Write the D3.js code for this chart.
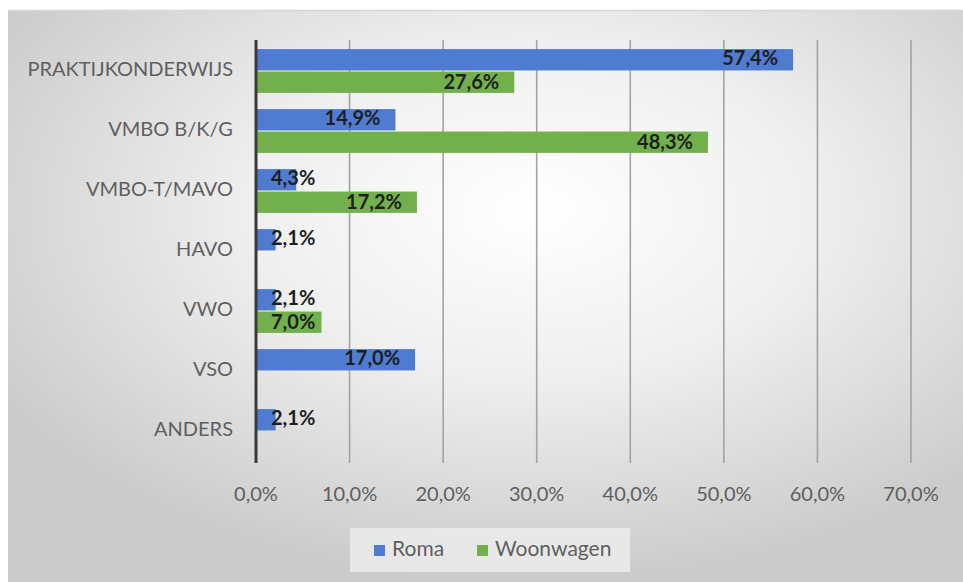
<!DOCTYPE html>
<html>
<head>
<meta charset="utf-8">
<script src="https://cdn.jsdelivr.net/npm/d3@7"></script>
<style>
  body { margin: 0; background: #ffffff; }
  svg { display: block; font-family: Lato, "Open Sans", sans-serif; }
</style>
</head>
<body>
<div id="chart"></div>
<script>
// data
var categories = ['PRAKTIJKONDERWIJS', 'VMBO B/K/G', 'VMBO-T/MAVO', 'HAVO', 'VWO', 'VSO', 'ANDERS'];
var seriesNames = ['Roma', 'Woonwagen'];
var romaValues = [57.4, 14.9, 4.3, 2.1, 2.1, 17.0, 2.1];
var woonwagenValues = [27.6, 48.3, 17.2, null, 7.0, null, null];
var tickValues = [0, 10, 20, 30, 40, 50, 60, 70];
var colors = ['#4f7bd0', '#72b04c'];

var width = 963, height = 582;

var svg = d3.select('#chart').append('svg')
  .attr('width', width)
  .attr('height', height);

var defs = svg.append('defs');
var grad = defs.append('radialGradient')
  .attr('id', 'bg')
  .attr('cx', '55%').attr('cy', '35%').attr('r', '65%');
grad.append('stop').attr('offset', '0%').attr('stop-color', '#ffffff');
grad.append('stop').attr('offset', '45%').attr('stop-color', '#efefef');
grad.append('stop').attr('offset', '100%').attr('stop-color', '#cbcbcb');

// panel
svg.append('rect')
  .attr('x', 8).attr('y', 10)
  .attr('width', width - 8).attr('height', height - 10)
  .attr('fill', 'url(#bg)');
svg.append('line')
  .attr('x1', 8).attr('x2', width)
  .attr('y1', 10.5).attr('y2', 10.5)
  .attr('stroke', '#d6d6d6').attr('stroke-width', 1.5);

var x = d3.scaleLinear().domain([0, 70]).range([256, 911]);
var y0 = d3.scaleBand().domain(categories).range([41, 461])
  .paddingInner(0.27).paddingOuter(0.135);
var y1 = d3.scaleBand().domain(seriesNames).range([0, y0.bandwidth()]).paddingInner(0.05);

// gridlines
svg.append('g').selectAll('line')
  .data(tickValues.slice(1))
  .enter().append('line')
  .attr('x1', function (d) { return x(d); })
  .attr('x2', function (d) { return x(d); })
  .attr('y1', 40).attr('y2', 463)
  .attr('stroke', '#a3a3a3')
  .attr('stroke-width', 1.6);

// tick labels
svg.append('g').selectAll('text')
  .data(tickValues)
  .enter().append('text')
  .attr('x', function (d) { return x(d); })
  .attr('y', 496)
  .attr('text-anchor', 'middle')
  .attr('dominant-baseline', 'middle')
  .style('font-size', '20px')
  .style('fill', '#5f5f5f')
  .text(function (d) { return d.toFixed(1).replace('.', ',') + '%'; });

// category labels
svg.append('g').selectAll('text')
  .data(categories)
  .enter().append('text')
  .attr('x', 233)
  .attr('y', function (d) { return y0(d) + y0.bandwidth() / 2; })
  .attr('text-anchor', 'end')
  .attr('dominant-baseline', 'middle')
  .style('font-size', '20px')
  .style('fill', '#5f5f5f')
  .text(function (d) { return d; });

// bars
var rows = [];
categories.forEach(function (c, i) {
  rows.push({ cat: c, series: 'Roma', value: romaValues[i], color: colors[0] });
  if (woonwagenValues[i] != null)
    rows.push({ cat: c, series: 'Woonwagen', value: woonwagenValues[i], color: colors[1] });
});

svg.append('g').selectAll('rect')
  .data(rows)
  .enter().append('rect')
  .attr('x', x(0) + 1)
  .attr('y', function (d) { return y0(d.cat) + y1(d.series); })
  .attr('width', function (d) { return x(d.value) - x(0) - 1; })
  .attr('height', y1.bandwidth())
  .attr('fill', function (d) { return d.color; });

// value labels, inside end; pushed past axis when the bar is short
svg.append('g').selectAll('text')
  .data(rows)
  .enter().append('text')
  .attr('y', function (d) {
    var nudge = d.series == 'Roma' ? 0 : 2;
    return y0(d.cat) + y1(d.series) + y1.bandwidth() / 2 + nudge;
  })
  .attr('dominant-baseline', 'middle')
  .style('font-size', '20px')
  .style('font-weight', 'bold')
  .style('fill', '#1e1e1e')
  .text(function (d) { return d.value.toFixed(1).replace('.', ',') + '%'; })
  .attr('x', function (d) {
    var w = this.getComputedTextLength();
    return Math.max(x(d.value) - 15 - w, x(0) + 15);
  });

// axis line
svg.append('line')
  .attr('x1', x(0)).attr('x2', x(0))
  .attr('y1', 40).attr('y2', 463)
  .attr('stroke', '#3a3a3a')
  .attr('stroke-width', 3);

// legend
var legend = svg.append('g');
legend.append('rect')
  .attr('x', 350).attr('y', 528)
  .attr('width', 280).attr('height', 44)
  .attr('fill', '#ededed')
  .attr('opacity', 0.8);
var legendX = [374, 477];
seriesNames.forEach(function (s, i) {
  legend.append('rect')
    .attr('x', legendX[i]).attr('y', 545)
    .attr('width', 11).attr('height', 11)
    .attr('fill', colors[i]);
  legend.append('text')
    .attr('x', legendX[i] + 18).attr('y', 551)
    .attr('dominant-baseline', 'middle')
    .style('font-size', '21px')
    .style('fill', '#5f5f5f')
    .text(s);
});
</script>
</body>
</html>
